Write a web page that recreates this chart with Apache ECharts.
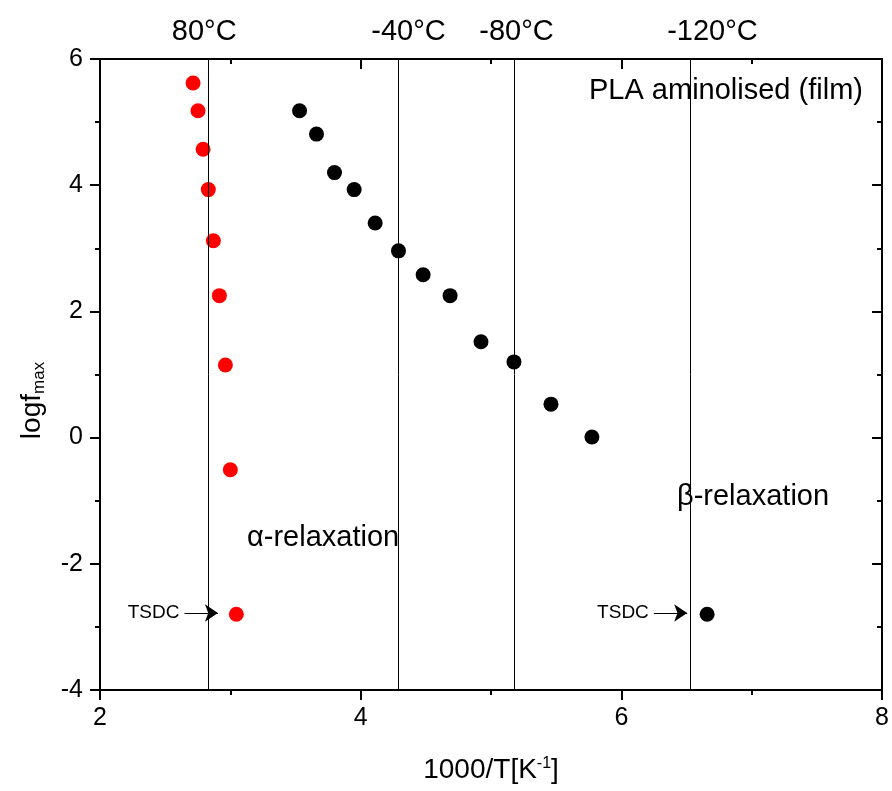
<!DOCTYPE html>
<html>
<head>
<meta charset="utf-8">
<script src="https://cdn.jsdelivr.net/npm/echarts@6/dist/echarts.min.js"></script>
<style>html,body{margin:0;padding:0;background:#fff}#c{width:892px;height:791px}</style>
</head>
<body>
<div id="c"></div>
<script>
// alpha relaxation (red)
const alphaX = [2.714, 2.752, 2.791, 2.831, 2.870, 2.916, 2.962, 3.000, 3.046];
const alphaY = [5.62, 5.18, 4.57, 3.93, 3.12, 2.25, 1.15, -0.51, -2.80];
// beta relaxation (black)
const betaX = [3.531, 3.661, 3.799, 3.950, 4.111, 4.290, 4.479, 4.686, 4.923, 5.176, 5.460, 5.774, 6.658];
const betaY = [5.18, 4.81, 4.20, 3.93, 3.40, 2.96, 2.58, 2.25, 1.52, 1.20, 0.53, 0.01, -2.80];
// reference temperatures (vertical lines, 1000/T)
const tempC = [80, -40, -80, -120];
const tempLabels = ['80°C', '-40°C', '-80°C', '-120°C'];
// TSDC arrows: [startX, endX, y]
const tsdcAlpha = [2.648, 2.905, -2.78];
const tsdcBeta = [6.249, 6.505, -2.78];
const xTicks = [2, 4, 6, 8];
const yTicks = [-4, -2, 0, 2, 4, 6];

const FONT = 'Liberation Sans, Arial, sans-serif';
const vLines = tempC.map(t => 1000 / (t + 273.15));
// horizontal nudges of the temperature labels (px)
const labelNudge = [-4, 10, 2, 22];

const chart = echarts.init(document.getElementById('c'), null, {renderer: 'canvas'});
const axisLineStyle = {color: '#000', width: 2};
const baseX = {
  type: 'value', min: xTicks[0], max: xTicks[xTicks.length - 1], interval: 2,
  splitLine: {show: false},
  axisLine: {show: true, onZero: false, lineStyle: axisLineStyle},
  minorTick: {show: true, splitNumber: 2, length: 5, lineStyle: {color: '#000', width: 2}},
  axisTick: {show: true, length: 10, lineStyle: {color: '#000', width: 2}}
};
const baseY = {
  type: 'value', min: yTicks[0], max: yTicks[yTicks.length - 1], interval: 2,
  splitLine: {show: false},
  axisLine: {show: true, onZero: false, lineStyle: axisLineStyle},
  minorTick: {show: true, splitNumber: 2, length: 5, lineStyle: {color: '#000', width: 2}},
  axisTick: {show: true, length: 10, lineStyle: {color: '#000', width: 2}}
};

chart.setOption({
  animation: false,
  backgroundColor: '#fff',
  textStyle: {fontFamily: FONT},
  grid: {left: 100, right: 9, top: 59, bottom: 101},
  xAxis: [
    Object.assign({}, baseX, {
      position: 'bottom',
      axisLabel: {color: '#000', fontSize: 25, fontFamily: FONT, margin: 16},
      name: '{a|1000/T[K}{s|-1}{a|]}',
      nameLocation: 'middle', nameGap: 66,
      nameTextStyle: {
        rich: {
          a: {fontSize: 28, color: '#000', fontFamily: FONT},
          s: {fontSize: 16, color: '#000', fontFamily: FONT, verticalAlign: 'top', padding: [0, 0, 13, 0]}
        }
      }
    }),
    Object.assign({}, baseX, {
      position: 'top',
      axisLabel: {show: false},
      axisTick: {show: true, inside: true, length: 10, lineStyle: {color: '#000', width: 2}},
      minorTick: {show: true, splitNumber: 2, length: 5, lineStyle: {color: '#000', width: 2}}
    })
  ],
  yAxis: [
    Object.assign({}, baseY, {
      position: 'left',
      axisLabel: {color: '#000', fontSize: 25, fontFamily: FONT, margin: 17},
      name: '{a|logf}{b|max}',
      nameLocation: 'middle', nameRotate: 90, nameGap: 52,
      nameTextStyle: {
        padding: [0, 52, 0, 0],
        rich: {
          a: {fontSize: 28, color: '#000', fontFamily: FONT},
          b: {fontSize: 17, color: '#000', fontFamily: FONT, verticalAlign: 'bottom', padding: [14, 0, 0, 0]}
        }
      }
    }),
    Object.assign({}, baseY, {
      position: 'right',
      axisLabel: {show: false},
      axisTick: {show: true, inside: true, length: 10, lineStyle: {color: '#000', width: 2}},
      minorTick: {show: true, splitNumber: 2, length: 5, lineStyle: {color: '#000', width: 2}}
    })
  ],
  series: [
    {
      type: 'scatter', name: 'alpha', xAxisIndex: 0, yAxisIndex: 0,
      symbol: 'circle', symbolSize: 15,
      itemStyle: {color: '#ff0000', opacity: 1},
      data: alphaX.map((x, i) => [x, alphaY[i]]),
      markLine: {
        silent: true, symbol: ['none', 'arrow'], symbolSize: 13,
        lineStyle: {color: '#000', width: 1, type: 'solid'},
        label: {show: true, position: 'start', formatter: 'TSDC', fontSize: 19, color: '#000', fontFamily: FONT, distance: 5},
        data: [[{coord: [tsdcAlpha[0], tsdcAlpha[2]]}, {coord: [tsdcAlpha[1], tsdcAlpha[2]]}]]
      }
    },
    {
      type: 'scatter', name: 'beta', xAxisIndex: 0, yAxisIndex: 0,
      symbol: 'circle', symbolSize: 15,
      itemStyle: {color: '#000000', opacity: 1},
      data: betaX.map((x, i) => [x, betaY[i]]),
      markLine: {
        silent: true, symbol: ['none', 'arrow'], symbolSize: 13,
        lineStyle: {color: '#000', width: 1, type: 'solid'},
        label: {show: true, position: 'start', formatter: 'TSDC', fontSize: 19, color: '#000', fontFamily: FONT, distance: 5},
        data: [[{coord: [tsdcBeta[0], tsdcBeta[2]]}, {coord: [tsdcBeta[1], tsdcBeta[2]]}]]
      }
    },
    {
      type: 'line', name: 'temps', xAxisIndex: 0, yAxisIndex: 0, data: [],
      markLine: {
        silent: true, symbol: ['none', 'none'],
        lineStyle: {color: '#000', width: 1, type: 'solid'},
        label: {show: true, position: 'end', fontSize: 29, color: '#000', fontFamily: FONT, distance: 13},
        data: vLines.map((v, i) => {
          const d = labelNudge[i];
          return {
            xAxis: v,
            label: {formatter: tempLabels[i], padding: d >= 0 ? [0, 0, 0, 2 * d] : [0, -2 * d, 0, 0]}
          };
        })
      }
    }
  ],
  graphic: [
    {type: 'text', left: 589, top: 76, style: {text: 'PLA aminolised (film)', fontSize: 29, fill: '#000', fontFamily: FONT}},
    {type: 'text', left: 247, top: 523, style: {text: 'α-relaxation', fontSize: 29, fill: '#000', fontFamily: FONT}},
    {type: 'text', left: 677, top: 482, style: {text: 'β-relaxation', fontSize: 29, fill: '#000', fontFamily: FONT}}
  ]
});
</script>
</body>
</html>
